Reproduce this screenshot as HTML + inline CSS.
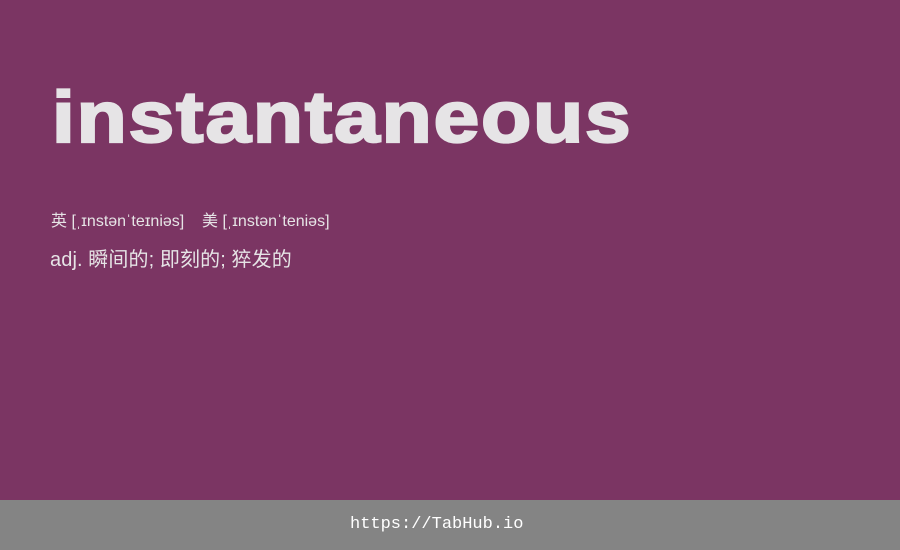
<!DOCTYPE html>
<html><head><meta charset="utf-8"><style>
html,body{margin:0;padding:0}
body{width:900px;height:550px;background:#7b3563;position:relative;overflow:hidden;font-family:"Liberation Sans","Noto Sans CJK SC",sans-serif;color:#e6e4e6}
#word{position:absolute;left:52px;top:65px;font-size:82px;font-weight:bold;line-height:100px;margin:0;letter-spacing:1.9px;-webkit-text-stroke:2.6px #e6e4e6;transform:scaleY(0.88);transform-origin:0 77px;white-space:nowrap}
#phon{position:absolute;left:51px;top:212px;font-size:16px;line-height:20px}
#def{position:absolute;left:50px;top:247px;font-size:20px;line-height:26px;letter-spacing:0.1px}
#footer{position:absolute;left:0;top:500px;width:900px;height:50px;background:#848484;line-height:50px;font-family:"Liberation Mono","DejaVu Sans Mono",monospace;font-size:17px;color:#fff}
#footer span{position:absolute;left:350px;top:0}
</style></head><body>
<h1 id="word">instantaneous</h1>
<div id="phon">英 [ˌɪnstənˈteɪniəs]&nbsp;&nbsp;&nbsp; 美 [ˌɪnstənˈteniəs]</div>
<div id="def">adj. 瞬间的; 即刻的; 猝发的</div>
<div id="footer"><span>https://TabHub.io</span></div>
</body></html>
